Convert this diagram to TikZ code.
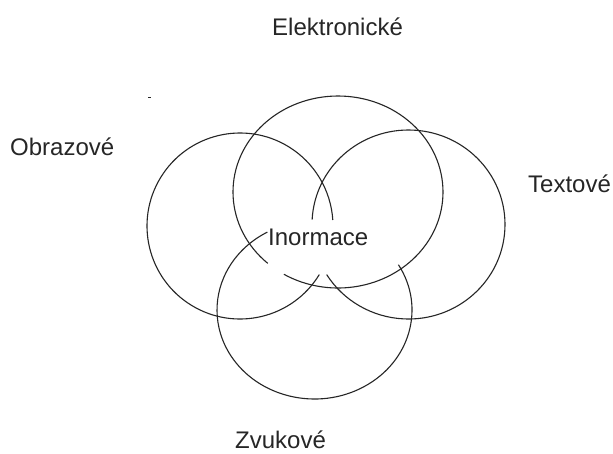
\documentclass[tikz,border=0pt]{standalone}
\usepackage{fontspec}
\setmainfont{Liberation Sans}
\begin{document}
\begin{tikzpicture}[x=1pt,y=-1pt,
  ring/.style={draw=black!85,line width=1.1pt},
  lbl/.style={anchor=base west,inner sep=0pt,font=\fontsize{24}{28}\selectfont,text=black!85}]
\useasboundingbox[fill=white] (0,0) rectangle (613,453);
% top circle (Elektronicke)
\draw[ring] (338,192) ++(132:105 and 96) arc[start angle=132,end angle=481,x radius=105,y radius=96];
% left circle (Obrazove)
\draw[ring] (240,226) ++(31.5:93 and 93) arc[start angle=31.5,end angle=356.3,x radius=93,y radius=93];
% right circle (Textove)
\draw[ring] (408.5,224.5) ++(183:96.5 and 94.5) arc[start angle=183,end angle=508,x radius=96.5,y radius=94.5];
% bottom circle (Zvukove)
\draw[ring] (314.5,310) ++(-30.6:97.5 and 89) arc[start angle=-30.6,end angle=241.1,x radius=97.5,y radius=89];
% stray mark
\draw[black!85,line width=1pt] (148,97) -- (151,97);
% labels
\node[lbl] (el) at (272,35) {Elektronické};
\node[lbl] (ob) at (10,155) {Obrazové};
\node[lbl] (tx) at (528,192) {Textové};
\node[lbl] (in) at (268,245) {Inormace};
\node[lbl] (zv) at (235,448) {Zvukové};
\end{tikzpicture}
\end{document}
